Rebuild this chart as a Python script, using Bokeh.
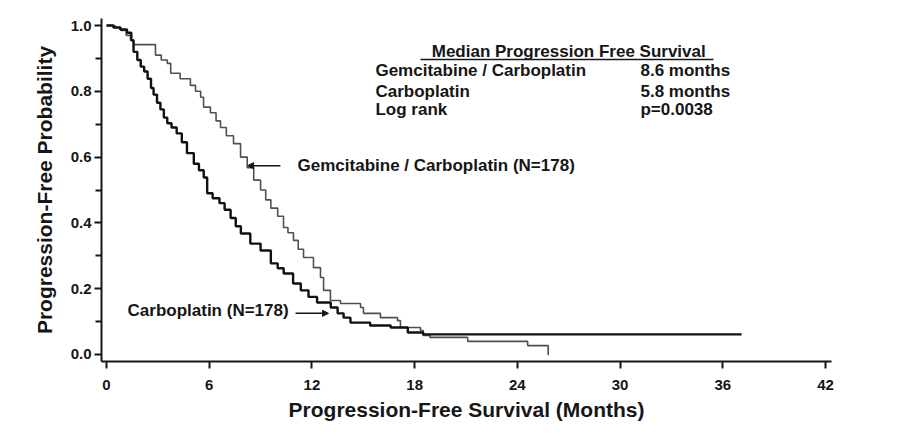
from bokeh.plotting import figure
from bokeh.models import (Label, Arrow, NormalHead, FixedTicker, Range1d)
from bokeh.embed import file_html
from bokeh.resources import INLINE

# ---- data ----
carbo_months = [0, 0.4, 0.8, 1.2, 1.45, 1.58, 1.8, 2.0, 2.2, 2.4, 2.6, 2.75, 2.95,
                3.15, 3.35, 3.55, 3.8, 4.1, 4.4, 4.7, 5.1, 5.4, 5.68, 5.88, 6.2,
                6.6, 6.9, 7.25, 7.55, 7.85, 8.4, 9.0, 9.6, 10.0, 10.35, 10.9,
                11.35, 11.8, 12.3, 13.1, 13.5, 13.85, 14.25, 15.4, 16.6, 17.6,
                18.5, 37.1]
carbo_surv = [1.0, 0.994, 0.988, 0.978, 0.955, 0.92, 0.895, 0.875, 0.86, 0.838,
              0.81, 0.79, 0.765, 0.745, 0.72, 0.703, 0.69, 0.672, 0.645, 0.612,
              0.58, 0.56, 0.538, 0.49, 0.475, 0.46, 0.44, 0.415, 0.39, 0.368,
              0.337, 0.316, 0.277, 0.262, 0.246, 0.216, 0.195, 0.175, 0.158,
              0.143, 0.125, 0.112, 0.097, 0.088, 0.082, 0.067, 0.061, 0.061]

gem_months = [0, 0.5, 0.85, 1.15, 1.4, 1.58, 2.86, 3.2, 3.55, 3.75, 4.3, 4.9,
              5.2, 5.5, 5.67, 6.07, 6.4, 6.66, 7.0, 7.42, 7.83, 8.22, 8.6, 9.0,
              9.3, 9.6, 10.0, 10.34, 10.6, 10.92, 11.2, 11.51, 12.09, 12.5,
              12.68, 13.08, 13.67, 14.84, 15.01, 16.0, 17.0, 17.17, 18.34,
              18.5, 18.9, 21.1, 24.6, 25.8, 25.85]
gem_surv = [1.0, 0.994, 0.985, 0.97, 0.955, 0.942, 0.91, 0.895, 0.885, 0.855,
            0.838, 0.818, 0.80, 0.782, 0.752, 0.735, 0.71, 0.69, 0.665, 0.641,
            0.60, 0.568, 0.53, 0.50, 0.47, 0.445, 0.42, 0.386, 0.37, 0.347,
            0.32, 0.295, 0.264, 0.234, 0.195, 0.164, 0.155, 0.143, 0.125,
            0.112, 0.103, 0.082, 0.073, 0.058, 0.052, 0.04, 0.027, 0.0, 0.0]

x_ticks = [0, 6, 12, 18, 24, 30, 36, 42]
y_ticks = [0.0, 0.2, 0.4, 0.6, 0.8, 1.0]
y_minor = [0.1, 0.3, 0.5, 0.7, 0.9]
y_tick_labels = ["0.0", "0.2", "0.4", "0.6", "0.8", "1.0"]

table_title = "Median Progression Free Survival"
table_rows = ["Gemcitabine / Carboplatin", "Carboplatin", "Log rank"]
table_vals = ["8.6 months", "5.8 months", "p=0.0038"]
gem_label = "Gemcitabine / Carboplatin (N=178)"
carbo_label = "Carboplatin (N=178)"

FONT = "Liberation Sans"
INK = "#161616"

p = figure(frame_width=730, frame_height=343,
           min_border_left=101, min_border_top=18, min_border_right=40,
           min_border_bottom=74,
           x_range=Range1d(-0.292, 42.35), y_range=Range1d(-0.0213, 1.0213),
           output_backend="svg", toolbar_location=None)
p.outline_line_color = None
p.xgrid.visible = False
p.ygrid.visible = False
p.background_fill_color = "white"
p.border_fill_color = "white"

# curves
p.step(gem_months, gem_surv, mode="after", line_color="#505050", line_width=1.6)
p.step(carbo_months, carbo_surv, mode="after", line_color="#111111", line_width=2.4)

# axes
xa = p.xaxis[0]
xa.ticker = FixedTicker(ticks=x_ticks)
xa.axis_label = "Progression-Free Survival (Months)"
ya = p.yaxis[0]
ya.ticker = FixedTicker(ticks=y_ticks, minor_ticks=y_minor)
ya.major_label_overrides = {t: l for t, l in zip(y_ticks, y_tick_labels)}
ya.axis_label = "Progression-Free Probability"
for ax in (xa, ya):
    ax.axis_line_width = 2
    ax.axis_line_color = INK
    ax.major_tick_line_width = 2
    ax.major_tick_line_color = INK
    ax.minor_tick_line_width = 2
    ax.minor_tick_line_color = INK
    ax.major_tick_in = 0
    ax.major_tick_out = 7
    ax.minor_tick_in = 0
    ax.minor_tick_out = 6
    ax.major_label_text_font = FONT
    ax.major_label_text_font_style = "bold"
    ax.major_label_text_font_size = "15px"
    ax.major_label_text_color = INK
    ax.axis_label_text_font = FONT
    ax.axis_label_text_font_style = "bold"
    ax.axis_label_text_font_size = "21px"
    ax.axis_label_text_color = INK
xa.minor_tick_out = 0
xa.major_label_standoff = 11
xa.axis_label_standoff = 5
ya.major_label_standoff = 3
ya.axis_label_standoff = 12

def add_text(x, y, t, align="left"):
    p.add_layout(Label(x=x, y=y, text=t, text_font=FONT, text_font_style="bold",
                       text_font_size="17px", text_color=INK, text_align=align,
                       text_baseline="middle"))

# table
add_text(27.0, 0.921, table_title, align="center")
p.segment(x0=[18.34], y0=[0.897], x1=[35.46], y1=[0.897], line_color=INK, line_width=1.5)
row_y = [0.863, 0.799, 0.745]
for name, val, yy in zip(table_rows, table_vals, row_y):
    add_text(15.71, yy, name)
    add_text(31.19, yy, val)

# curve labels with arrows
add_text(11.16, 0.574, gem_label)
p.add_layout(Arrow(x_start=10.16, y_start=0.574, x_end=8.24, y_end=0.574,
                   line_color=INK, line_width=1.5,
                   end=NormalHead(size=6, fill_color=INK, line_color=INK)))
add_text(1.23, 0.134, carbo_label)
p.add_layout(Arrow(x_start=11.04, y_start=0.125, x_end=12.97, y_end=0.125,
                   line_color=INK, line_width=1.5,
                   end=NormalHead(size=6, fill_color=INK, line_color=INK)))

open("out.html", "w").write(file_html(p, INLINE))
